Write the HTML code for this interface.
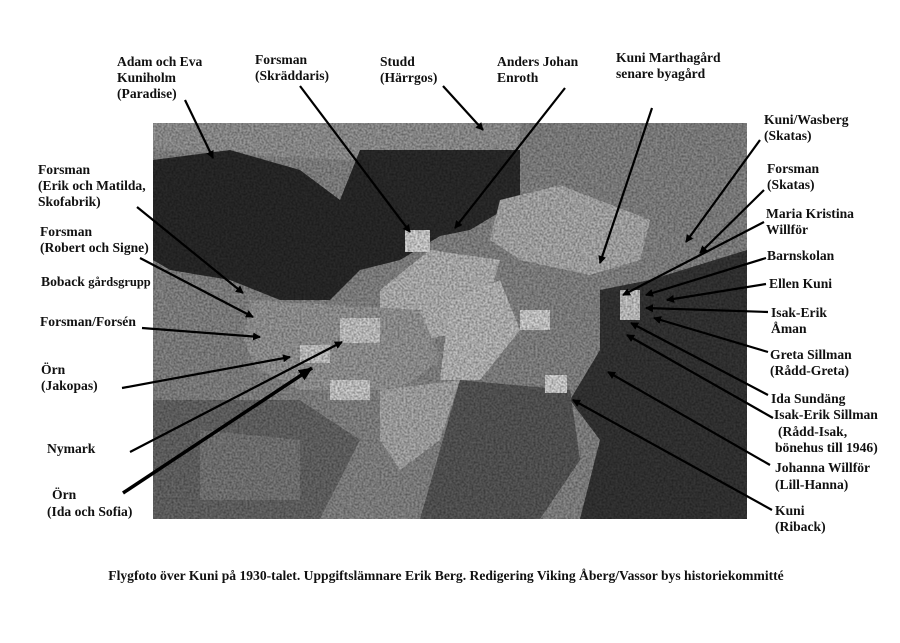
<!DOCTYPE html>
<html><head><meta charset="utf-8"><style>
html,body{margin:0;padding:0;background:#fff;}
svg{display:block}
text{font-family:"Liberation Serif",serif;font-weight:bold;font-size:13.6px;fill:#111}
</style></head><body>
<svg width="900" height="643" viewBox="0 0 900 643" xmlns="http://www.w3.org/2000/svg">
<defs>
<filter id="n" x="153" y="123" width="594" height="396" filterUnits="userSpaceOnUse">
<feTurbulence type="fractalNoise" baseFrequency="0.5" numOctaves="2" seed="3" result="t"/>
<feColorMatrix in="t" type="matrix" values="0 0 0 0 0  0 0 0 0 0  0 0 0 0 0  0.7 0 0 0 -0.2"/>
</filter>
<clipPath id="c"><rect x="153" y="123" width="594" height="396"/></clipPath>
<marker id="a" markerWidth="8" markerHeight="8" refX="7" refY="4" orient="auto" markerUnits="userSpaceOnUse" viewBox="0 0 8 8"><path d="M0,0 L8,4 L0,8 z" fill="#000"/></marker>
<marker id="b" markerWidth="14" markerHeight="12" refX="13" refY="6" orient="auto" markerUnits="userSpaceOnUse" viewBox="0 0 14 12"><path d="M0,0 L14,6 L0,12 z" fill="#000"/></marker>
</defs>
<g clip-path="url(#c)">
<rect x="153" y="123" width="594" height="396" fill="#8c8c8c"/>
<polygon points="153,123 520,123 540,170 153,150" fill="#9a9a9a"/>
<polygon points="520,123 747,123 747,250 690,240 600,200 520,180" fill="#8a8a8a"/>
<polygon points="153,160 230,150 300,170 340,200 360,150 420,150 470,170 450,230 400,260 360,270 330,300 280,300 230,280 170,270 153,260" fill="#2a2a2a"/>
<polygon points="360,150 520,150 520,200 470,230 420,240" fill="#2c2c2c"/>
<polygon points="500,200 560,185 650,220 640,260 590,275 520,260 490,240" fill="#b4b4b4"/>
<polygon points="380,290 430,250 500,260 480,330 420,340 380,330" fill="#bdbdbd"/>
<polygon points="450,300 500,280 520,330 480,380 440,380" fill="#c2c2c2"/>
<polygon points="250,300 420,310 440,360 400,390 300,390 240,360" fill="#9e9e9e"/>
<polygon points="600,290 650,280 747,250 747,519 580,519 600,440 570,400 600,350" fill="#363636"/>
<polygon points="380,390 460,380 440,440 400,470 380,440" fill="#b0b0b0"/>
<polygon points="460,380 570,390 580,460 540,519 420,519 440,450" fill="#5a5a5a"/>
<polygon points="153,400 300,400 360,440 320,519 153,519" fill="#6a6a6a"/>
<polygon points="200,430 300,440 300,500 200,500" fill="#7d7d7d"/>
<polygon points="153,340 240,330 260,380 200,400 153,400" fill="#8a8a8a"/>
<rect x="405" y="230" width="25" height="22" fill="#dadada"/>
<rect x="340" y="318" width="40" height="25" fill="#d0d0d0"/>
<rect x="300" y="345" width="30" height="18" fill="#cfcfcf"/>
<rect x="520" y="310" width="30" height="20" fill="#d8d8d8"/>
<rect x="545" y="375" width="22" height="18" fill="#dcdcdc"/>
<rect x="620" y="290" width="20" height="30" fill="#cfcfcf"/>
<rect x="330" y="380" width="40" height="20" fill="#d4d4d4"/>
<rect x="153" y="123" width="594" height="396" fill="#fff" filter="url(#n)"/>
</g>
<g stroke="#000" stroke-width="2.2" fill="none" marker-end="url(#a)">
<line x1="185" y1="100" x2="213" y2="158"/>
<line x1="300" y1="86" x2="410" y2="232"/>
<line x1="443" y1="86" x2="483" y2="130"/>
<line x1="565" y1="88" x2="455" y2="228"/>
<line x1="652" y1="108" x2="600" y2="263"/>
<line x1="760" y1="140" x2="686" y2="242"/>
<line x1="764" y1="190" x2="700" y2="253"/>
<line x1="764" y1="222" x2="623" y2="295"/>
<line x1="766" y1="258" x2="646" y2="295"/>
<line x1="766" y1="284" x2="667" y2="300"/>
<line x1="768" y1="312" x2="646" y2="308"/>
<line x1="768" y1="352" x2="654" y2="318"/>
<line x1="768" y1="395" x2="631" y2="323"/>
<line x1="773" y1="418" x2="627" y2="335"/>
<line x1="770" y1="465" x2="608" y2="372"/>
<line x1="772" y1="510" x2="573" y2="400"/>
<line x1="137" y1="207" x2="243" y2="293"/>
<line x1="140" y1="258" x2="253" y2="317"/>
<line x1="142" y1="328" x2="260" y2="337"/>
<line x1="122" y1="388" x2="290" y2="357"/>
<line x1="130" y1="452" x2="342" y2="342"/>
</g>
<line x1="123" y1="493" x2="312" y2="368" stroke="#000" stroke-width="3.5" marker-end="url(#b)"/>
<text x="117" y="66">Adam och Eva</text><text x="117" y="82">Kuniholm</text><text x="117" y="98">(Paradise)</text>
<text x="255" y="64">Forsman</text><text x="255" y="80">(Skräddaris)</text>
<text x="380" y="66">Studd</text><text x="380" y="82">(Härrgos)</text>
<text x="497" y="66">Anders Johan</text><text x="497" y="82">Enroth</text>
<text x="616" y="62">Kuni Marthagård</text><text x="616" y="78">senare byagård</text>
<text x="764" y="124">Kuni/Wasberg</text><text x="764" y="140">(Skatas)</text>
<text x="767" y="173">Forsman</text><text x="767" y="189">(Skatas)</text>
<text x="766" y="218">Maria Kristina</text><text x="766" y="234">Willför</text>
<text x="767" y="260">Barnskolan</text>
<text x="769" y="288">Ellen Kuni</text>
<text x="771" y="317">Isak-Erik</text><text x="771" y="333">Åman</text>
<text x="770" y="359">Greta Sillman</text><text x="770" y="375">(Rådd-Greta)</text>
<text x="771" y="403">Ida Sundäng</text>
<text x="774" y="419">Isak-Erik Sillman</text>
<text x="778" y="436">(Rådd-Isak,</text><text x="775" y="452">bönehus till 1946)</text>
<text x="775" y="472">Johanna Willför</text><text x="775" y="489">(Lill-Hanna)</text>
<text x="775" y="515">Kuni</text><text x="775" y="531">(Riback)</text>
<text x="38" y="174">Forsman</text><text x="38" y="190">(Erik och Matilda,</text><text x="38" y="206">Skofabrik)</text>
<text x="40" y="236">Forsman</text><text x="40" y="252">(Robert och Signe)</text>
<text x="41" y="286">Boback <tspan font-size="12.5">gårdsgrupp</tspan></text>
<text x="40" y="326">Forsman/Forsén</text>
<text x="41" y="374">Örn</text><text x="41" y="390">(Jakopas)</text>
<text x="47" y="453">Nymark</text>
<text x="52" y="499">Örn</text><text x="47" y="516">(Ida och Sofia)</text>
<text x="446" y="580" text-anchor="middle" font-size="13.2">Flygfoto över Kuni på 1930-talet. Uppgiftslämnare Erik Berg. Redigering Viking Åberg/Vassor bys historiekommitté</text>
</svg>
</body></html>
